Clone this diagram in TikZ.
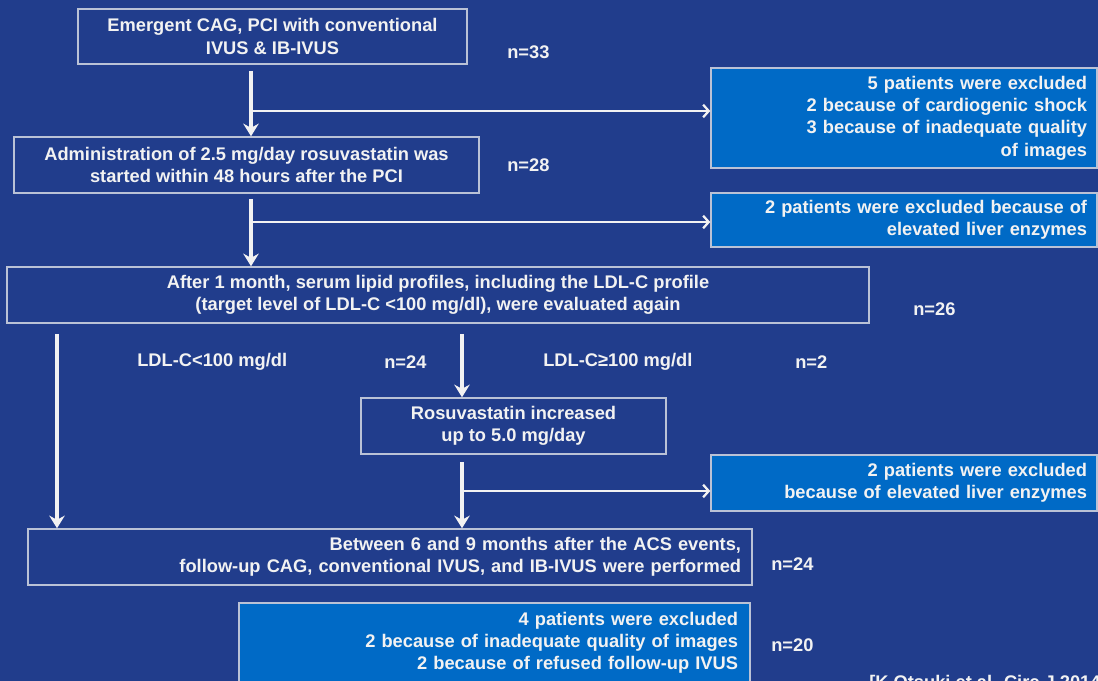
\documentclass[tikz,border=0pt]{standalone}
\usepackage{fontspec}
\setmainfont{Liberation Sans}
\usetikzlibrary{arrows.meta,positioning}
\definecolor{bgblue}{RGB}{33,61,140}
\definecolor{exblue}{RGB}{0,106,198}
\definecolor{edge}{RGB}{186,194,214}
\definecolor{ink}{RGB}{242,242,242}
\begin{document}
\begin{tikzpicture}[x=0.025cm,y=-0.025cm,font=\fontsize{13}{15.8}\selectfont\bfseries]
  \tikzstyle{box}=[draw=edge,line width=1pt,text=ink,minimum height=1.4cm,align=center]
  \tikzstyle{exbox}=[draw=edge,line width=1pt,fill=exblue,text=ink,align=right,inner xsep=0.25cm]
  \tikzstyle{lbl}=[text=ink,inner sep=0pt,anchor=west]
  \tikzstyle{vline}=[draw=ink,line width=2.2pt,-{Stealth[length=9pt,width=11pt,inset=3pt]}]
  \tikzstyle{hline}=[draw=ink,line width=1.6pt,-{Straight Barb[length=4pt,width=9pt]}]
  \fill[bgblue] (0,0) rectangle (1098,681);
  \clip (0,0) rectangle (1098,681);
  % main boxes
  \node[box,minimum width=9.725cm,minimum height=1.375cm] (cag) at (272.5,36.5) {Emergent CAG, PCI with conventional\\IVUS \& IB-IVUS};
  \node[box,minimum width=11.625cm] (rosu) at (246.5,165) {Administration of 2.5 mg/day rosuvastatin was\\started within 48 hours after the PCI};
  \node[box,minimum width=21.55cm] (lipid) at (438,295) {After 1 month, serum lipid profiles, including the LDL-C profile\\(target level of LDL-C <100 mg/dl), were evaluated again};
  \node[box,minimum width=7.625cm] (incr) at (513.5,426) {Rosuvastatin increased\\up to 5.0 mg/day};
  \node[box,align=right,text width=17.55cm,inner xsep=0.275cm] (fup) at (390,557) {Between 6 and 9 months after the ACS events,\\follow-up CAG, conventional IVUS, and IB-IVUS were performed};
  % excluded
  \node[exbox,text width=9.15cm,minimum height=2.5cm] (ex1) at (904,118) {5 patients were excluded\\2 because of cardiogenic shock\\3 because of inadequate quality\\of images};
  \node[exbox,text width=9.15cm,minimum height=1.35cm] (ex2) at (904,220) {2 patients were excluded because of\\elevated liver enzymes};
  \node[exbox,text width=9.15cm,minimum height=1.4cm] (ex3) at (904,483) {2 patients were excluded\\because of elevated liver enzymes};
  \node[exbox,text width=12.175cm,inner xsep=0.3cm,minimum height=2cm] (ex4) at (494.5,643) {4 patients were excluded\\2 because of inadequate quality of images\\2 because of refused follow-up IVUS};
  % counts
  \node[lbl] (n33) at (507,52) {n=33};
  \node[lbl] (n28) at (507,165) {n=28};
  \node[lbl] (n26) at (913,309) {n=26};
  \node[lbl] (low) at (137,362) {LDL-C<100 mg/dl};
  \node[lbl] (n24a) at (384,362) {n=24};
  \node[lbl] (high) at (543,362) {LDL-C≥100 mg/dl};
  \node[lbl] (n2) at (795,362) {n=2};
  \node[lbl] (n24b) at (771,564) {n=24};
  \node[lbl] (n20) at (771,645) {n=20};
  \node[lbl,anchor=north west] (cite) at (869,675) {[K Otsuki et al. Circ J 2014]};
  % arrows
  \coordinate (s1) at (251,71);
  \coordinate (b1) at (251,111);
  \draw[vline] (s1) -- (s1 |- rosu.north);
  \draw[hline] (b1) -- (b1 -| ex1.west);
  \coordinate (s2) at (251,199);
  \coordinate (b2) at (251,222);
  \draw[vline] (s2) -- (s2 |- lipid.north);
  \draw[hline] (b2) -- (b2 -| ex2.west);
  \coordinate (s3) at (57,334);
  \draw[vline] (s3) -- (s3 |- fup.north);
  \coordinate (s4) at (462,334);
  \draw[vline] (s4) -- (s4 |- incr.north);
  \coordinate (s5) at (462,462);
  \coordinate (b5) at (462,491);
  \draw[vline] (s5) -- (s5 |- fup.north);
  \draw[hline] (b5) -- (b5 -| ex3.west);
\end{tikzpicture}
\end{document}
